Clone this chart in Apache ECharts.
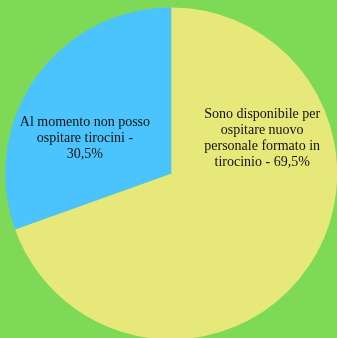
<!DOCTYPE html>
<html>
<head>
<meta charset="utf-8">
<script src="https://cdn.jsdelivr.net/npm/echarts@6/dist/echarts.min.js"></script>
<style>
  html, body { margin: 0; padding: 0; background: #7ed957; }
  #chart { width: 337px; height: 338px; }
</style>
</head>
<body>
<div id="chart"></div>
<script>
// Survey answers and their shares (%)
const categories = [
  'Sono disponibile per\nospitare nuovo\npersonale formato in\ntirocinio',
  'Al momento non posso\nospitare tirocini'
];
const shares = [69.5, 30.5];
const sliceColors = ['#e6e87a', '#4bc4fe'];
// How the percentage is joined to each answer's text
const valueJoins = [' - ', ' -\n'];

// Label anchor points inside each slice, as fractions of the chart size
const labelAnchors = [[0.778, 0.408], [0.252, 0.408]];

const chart = echarts.init(document.getElementById('chart'));

chart.setOption({
  backgroundColor: '#7ed957',
  animation: false,
  series: [{
    type: 'pie',
    center: ['50.8%', '51.3%'],
    radius: '98.5%',
    startAngle: 90,
    clockwise: true,
    silent: true,
    data: categories.map((name, i) => ({
      name: name,
      value: shares[i],
      itemStyle: { color: sliceColors[i] }
    })),
    label: {
      show: true,
      position: 'inside',
      formatter: p => p.name + valueJoins[p.dataIndex] + p.value.toFixed(1).replace('.', ',') + '%',
      color: '#111',
      fontFamily: 'Liberation Serif',
      fontSize: 14,
      lineHeight: 16,
      align: 'center'
    },
    labelLine: { show: false },
    labelLayout: function (params) {
      const w = chart.getWidth(), h = chart.getHeight();
      const a = labelAnchors[params.dataIndex];
      return { x: a[0] * w, y: a[1] * h, align: 'center', verticalAlign: 'middle' };
    }
  }]
});
</script>
</body>
</html>
